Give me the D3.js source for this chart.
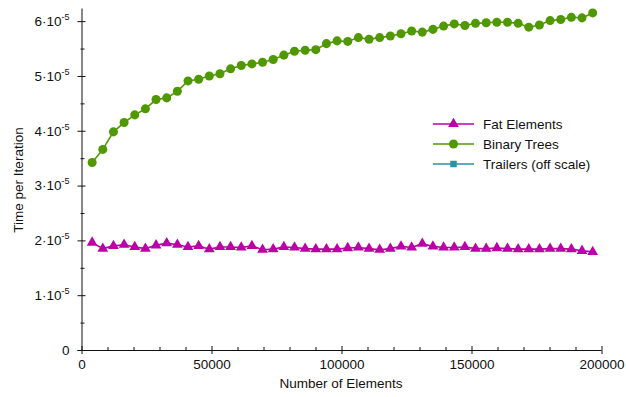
<!DOCTYPE html>
<html>
<head>
<meta charset="utf-8">
<script src="https://cdn.jsdelivr.net/npm/d3@7"></script>
<style>
  body { margin: 0; background: #fff; }
  svg text { font-family: "Liberation Sans", Arial, Helvetica, sans-serif; fill: #111; }
</style>
</head>
<body>
<svg id="chart" width="626" height="397"></svg>
<script>
// x values: element counts, step of 4096
const STEP = 4096;
const N_POINTS = 48;

// Time per iteration, in units of 1e-5
const binaryTrees = [
  3.42, 3.66, 3.98, 4.15, 4.29, 4.40, 4.57, 4.60, 4.72, 4.91,
  4.94, 5.00, 5.04, 5.13, 5.19, 5.22, 5.25, 5.30, 5.38, 5.45,
  5.47, 5.48, 5.59, 5.64, 5.63, 5.70, 5.67, 5.70, 5.73, 5.77,
  5.82, 5.80, 5.85, 5.91, 5.95, 5.92, 5.96, 5.97, 5.98, 5.98,
  5.96, 5.89, 5.93, 6.01, 6.03, 6.07, 6.06, 6.15
];
const fatElements = [
  1.96, 1.85, 1.90, 1.92, 1.88, 1.85, 1.91, 1.95, 1.92, 1.88,
  1.90, 1.84, 1.88, 1.88, 1.87, 1.90, 1.83, 1.84, 1.88, 1.87,
  1.85, 1.84, 1.84, 1.84, 1.86, 1.87, 1.85, 1.83, 1.85, 1.89,
  1.87, 1.94, 1.89, 1.87, 1.87, 1.88, 1.85, 1.85, 1.86, 1.85,
  1.84, 1.84, 1.84, 1.85, 1.85, 1.84, 1.81, 1.79
];
// off scale, nothing to draw
const trailers = [];

const seriesNames = ["Fat Elements", "Binary Trees", "Trailers (off scale)"];
const seriesColors = ["#bb00a8", "#4f9800", "#2696a6"];
const seriesShapes = [d3.symbolTriangle, d3.symbolCircle, d3.symbolSquare];

const xMajor = [0, 50000, 100000, 150000, 200000];
const xMinor = d3.range(10000, 200000, 10000).filter(v => v % 50000 != 0);
const yMajor = [0, 1, 2, 3, 4, 5, 6];
const yMinor = [0.5, 1.5, 2.5, 3.5, 4.5, 5.5];

function toPoints(vals) {
  return vals.map((v, i) => ({x: (i + 1) * STEP, y: v}));
}

const svg = d3.select("#chart");

const xScale = d3.scaleLinear().domain([0, 200000]).range([81.5, 601.5]);
const yScale = d3.scaleLinear().domain([0, 6.24]).range([350, 8]);

// ---- axes
const xAxisG = svg.append("g").attr("transform", "translate(0,350)");
xAxisG.call(d3.axisBottom(xScale).tickValues(xMajor).tickSize(4).tickSizeOuter(0)
  .tickPadding(5).tickFormat(d3.format("d")));
xAxisG.selectAll(".tick line").attr("y1", -4).attr("stroke", "#111");
xAxisG.select(".domain").attr("d", "M77.5,0.5H601.5").attr("stroke", "#111");
xAxisG.selectAll(".tick text").attr("font-size", 13.5).attr("fill", "#111");
xAxisG.selectAll(".minor").data(xMinor).enter().append("line")
  .attr("class", "minor")
  .attr("x1", d => xScale(d) + 0.5).attr("x2", d => xScale(d) + 0.5)
  .attr("y1", 0.5).attr("y2", -3).attr("stroke", "#111");

const yAxisG = svg.append("g").attr("transform", "translate(81.5,0)");
yAxisG.call(d3.axisLeft(yScale).tickValues(yMajor).tickSize(4).tickSizeOuter(0).tickPadding(8));
yAxisG.selectAll(".tick line").attr("x1", 4).attr("stroke", "#111");
yAxisG.select(".domain").attr("stroke", "#111");
yAxisG.selectAll(".minor").data(yMinor).enter().append("line")
  .attr("class", "minor")
  .attr("y1", d => yScale(d) + 0.5).attr("y2", d => yScale(d) + 0.5)
  .attr("x1", -1).attr("x2", 3).attr("stroke", "#111");

// labels like 6·10^-5
yAxisG.selectAll(".tick text").each(function(d) {
  const t = d3.select(this).text(null).attr("font-size", 13.5).attr("fill", "#111");
  if (d == 0) {
    t.text("0");
    return;
  }
  t.append("tspan").text(d + "\u00b710");
  t.append("tspan").text("-5").attr("font-size", 9).attr("dy", -6);
});

// axis titles
svg.append("text")
  .attr("x", 341).attr("y", 388)
  .attr("text-anchor", "middle").attr("font-size", 13.5)
  .text("Number of Elements");
svg.append("text")
  .attr("transform", "translate(23,180) rotate(-90)")
  .attr("text-anchor", "middle").attr("font-size", 13.5)
  .text("Time per Iteration");

// ---- series
const line = d3.line().x(d => xScale(d.x)).y(d => yScale(d.y));
const allSeries = [fatElements, binaryTrees, trailers];
const symbolSizes = [50, 64, 42];

allSeries.forEach((vals, s) => {
  const pts = toPoints(vals);
  const g = svg.append("g");
  g.append("path").datum(pts)
    .attr("d", line)
    .attr("fill", "none")
    .attr("stroke", seriesColors[s])
    .attr("stroke-width", 1.6);
  g.selectAll("path.pt").data(pts).enter().append("path")
    .attr("class", "pt")
    .attr("transform", d => `translate(${xScale(d.x)},${yScale(d.y)})`)
    .attr("d", d3.symbol().type(seriesShapes[s]).size(symbolSizes[s]))
    .attr("fill", seriesColors[s]);
});

// ---- legend
const legend = svg.append("g").attr("transform", "translate(433,124)");
seriesNames.forEach((name, i) => {
  const row = legend.append("g").attr("transform", `translate(0,${i * 20})`);
  row.append("line").attr("x1", 0).attr("x2", 41).attr("y1", 0).attr("y2", 0)
    .attr("stroke", seriesColors[i]).attr("stroke-width", 1.6);
  row.append("path").attr("transform", "translate(20.5,0)")
    .attr("d", d3.symbol().type(seriesShapes[i]).size(symbolSizes[i]))
    .attr("fill", seriesColors[i]);
  row.append("text").attr("x", 50).attr("y", 5)
    .attr("font-size", 13.5).text(name);
});
</script>
</body>
</html>
